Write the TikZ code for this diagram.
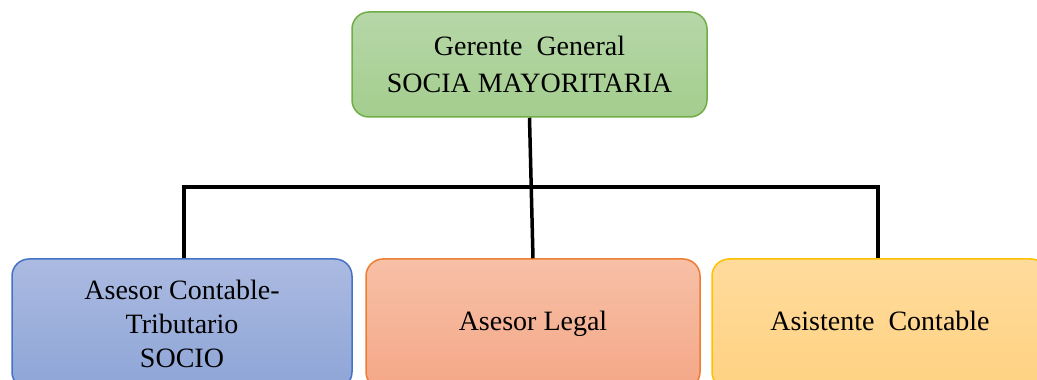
\documentclass[tikz,border=0pt]{standalone}
\usepackage{fontspec}
\setmainfont{Liberation Serif}
\definecolor{verdeborde}{HTML}{70AD47}
\definecolor{azulborde}{HTML}{4472C4}
\definecolor{naranjaborde}{HTML}{ED7D31}
\definecolor{amarilloborde}{HTML}{FFC000}
\begin{document}
\begin{tikzpicture}[x=1pt,y=1pt,
    box/.style={rectangle,rounded corners=17pt,line width=1.5pt,inner sep=0pt,
      minimum height=130pt,align=center,font=\fontsize{28}{34}\selectfont},
    linea/.style={line width=3.5pt,black}]

    \useasboundingbox (0,0) rectangle (1037,380);
    \clip (0,0) rectangle (1037,380);

    % the boxes
    \tikzstyle{verde}=[box,draw=verdeborde,top color={rgb,255:red,182;green,215;blue,168},
      bottom color={rgb,255:red,164;green,205;blue,142}]
    \tikzstyle{azul}=[box,draw=azulborde,top color={rgb,255:red,171;green,186;blue,225},
      bottom color={rgb,255:red,142;green,165;blue,215}]
    \tikzstyle{naranja}=[box,draw=naranjaborde,top color={rgb,255:red,247;green,192;blue,167},
      bottom color={rgb,255:red,244;green,167;blue,135}]
    \tikzstyle{amarillo}=[box,draw=amarilloborde,top color={rgb,255:red,255;green,219;blue,156},
      bottom color={rgb,255:red,255;green,210;blue,130}]

    \node[verde,minimum width=355pt,minimum height=105pt,
      font=\fontsize{28}{37}\selectfont] (gerente) at (529.5,315.5)
      {Gerente\ \ General\\SOCIA MAYORITARIA};
    \node[azul,minimum width=340pt] (contable) at (182,56)
      {Asesor Contable-\\Tributario\\SOCIO};
    \node[naranja,minimum width=334pt] (legal) at (533,56) {\strut Asesor Legal};
    \node[amarillo,minimum width=336pt] (asistente) at (880,56)
      {\strut Asistente\ \ Contable};

    % the lines
    \coordinate (bus) at (0,193);
    \draw[linea] (gerente.south) -- (legal.north);
    \draw[linea] ([xshift=2pt]contable.north) -- ([xshift=2pt]contable.north |- bus)
      -- ([xshift=-2pt]asistente.north |- bus) -- ([xshift=-2pt]asistente.north);

  \end{tikzpicture}
\end{document}
